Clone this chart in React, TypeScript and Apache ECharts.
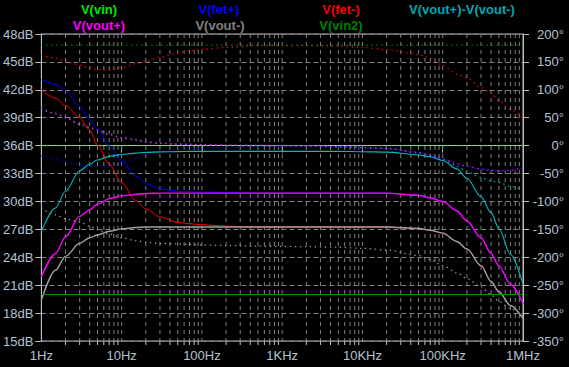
import React, { useEffect, useRef } from "react";
import * as echarts from "echarts";

const freqs = [1, 1.5, 2, 3, 4, 5, 7, 10, 15, 20, 30, 50, 70, 100, 200, 500, 1e3, 2e3, 5e3, 1e4, 2e4, 5e4, 7e4, 1e5, 1.5e5, 2e5, 3e5, 4e5, 5e5, 7e5, 1e6];

// Magnitudes (dB)
const fetPlusMag = [43.1, 42.6, 41.9, 40.2, 38.8, 37.8, 36.0, 34.4, 32.7, 31.9, 31.35, 31.1, 31.05, 31.0, 30.95, 30.9, 30.9, 30.9, 30.9, 30.9, 30.9, 30.65, 30.4, 30.0, 29.0, 27.9, 26.1, 24.4, 23.1, 21.1, 19.0];
const fetMinusMag = [42.0, 41.1, 40.3, 39.0, 37.7, 36.1, 34.0, 32.0, 30.1, 29.2, 28.35, 27.75, 27.6, 27.5, 27.35, 27.25, 27.25, 27.25, 27.25, 27.25, 27.25, 27.1, 26.9, 26.6, 25.7, 24.9, 23.1, 21.4, 20.3, 18.8, 17.4];
const diffMag = [26.8, 29.3, 31.1, 33.3, 34.0, 34.45, 34.85, 35.05, 35.2, 35.28, 35.33, 35.36, 35.38, 35.38, 35.38, 35.38, 35.38, 35.38, 35.38, 35.35, 35.3, 35.0, 34.8, 34.4, 33.5, 32.5, 30.5, 28.8, 27.1, 24.3, 21.1];
const voutPlusMag = [21.9, 24.4, 26.2, 28.4, 29.1, 29.7, 30.3, 30.6, 30.75, 30.85, 30.9, 30.9, 30.9, 30.9, 30.9, 30.9, 30.9, 30.9, 30.9, 30.9, 30.9, 30.65, 30.4, 30.0, 29.0, 27.9, 26.1, 24.4, 23.1, 21.1, 19.0];
const voutMinusMag = [19.4, 22.6, 24.1, 25.5, 26.1, 26.4, 26.8, 27.05, 27.2, 27.25, 27.25, 27.25, 27.25, 27.25, 27.25, 27.25, 27.25, 27.25, 27.25, 27.25, 27.25, 27.1, 26.9, 26.6, 25.7, 24.9, 23.1, 21.4, 20.3, 18.8, 17.4];

// Phases (degrees)
const fetPlusPhase = [-18, -23, -28, -34, -36, -37, -36, -31, -23, -16, -11, -7.5, -6, -4.5, -3, -2, -1, -0.5, -2, -3.5, -5, -12, -17, -24, -32, -37, -42, -44, -45, -44, -39];
const fetMinusPhase = [162, 157, 152, 144, 139, 136, 135.5, 140, 147, 151, 158.5, 165.5, 170, 172.6, 176, 179, 179, 179, 178, 176, 172, 163, 156, 144, 128, 121, 104, 95, 80, 65, 49];
const diffPhase = [66, 57, 50, 38, 32, 27, 20, 14, 10, 6.5, 4, 2.5, 2, 1.5, 0.8, 0.3, 0, -0.5, -2, -3.5, -5, -13, -18, -25, -36, -47, -57, -63, -66, -73, -79];
const voutPlusPhase = [68, 58, 51, 39, 33, 28, 21, 14.5, 11, 7, 4.5, 3, 2.5, 2, 1, 0.5, 0, -0.5, -2, -3.5, -5, -12, -17, -24, -32, -37, -42, -44, -45, -44, -39];
const voutMinusPhase = [-112, -124, -131, -137, -144, -151, -158, -165, -170, -173, -175, -176, -177, -178, -179, -180, -180.5, -181, -182, -184, -187, -197, -204, -215, -228, -238, -253, -267, -279, -292, -305];

// Flat traces
const flatFreqs = [1, 1e6];
const vinPhase = [0, 0];
const vin2Mag = [20, 20];
const vin2Phase = [180, 180];

const xTickLabels = ["1Hz", "10Hz", "100Hz", "1KHz", "10KHz", "100KHz", "1MHz"];
const decades = [1, 10, 100, 1e3, 1e4, 1e5];
const multipliers = [1, 2, 3, 4, 5, 6, 7, 8, 9];

const legendRow1 = [
  { text: "V(vin)", color: "#00e600" },
  { text: "V(fet+)", color: "#0000ff" },
  { text: "V(fet-)", color: "#ff0000" },
  { text: "V(vout+)-V(vout-)", color: "#00a8b4" },
];
const legendRow2 = [
  { text: "V(vout+)", color: "#ff00ff" },
  { text: "V(vout-)", color: "#808080" },
  { text: "V(vin2)", color: "#008000" },
];

const FONT = '"Liberation Sans", Arial, sans-serif';
const LABEL_COLOR = "#b4c3d2";

export default function App() {
  const ref = useRef<HTMLDivElement>(null);
  useEffect(() => {
    if (!ref.current) return;
    const chart = echarts.init(ref.current, undefined, { renderer: "svg" });

    const gridFreqs = decades
      .flatMap((d) => multipliers.map((m) => m * d))
      .filter((f) => f > 1 && f < 1e6);

    const pairs = (xs: number[], ys: number[]) => xs.map((f, i) => [f, ys[i]]);

    const mag = (name: string, color: string, ys: number[], xs = freqs, width = 1.1) => ({
      name,
      type: "line",
      xAxisIndex: 0,
      yAxisIndex: 0,
      data: pairs(xs, ys),
      showSymbol: false,
      symbol: "none",
      smooth: 0.3,
      smoothMonotone: "x",
      lineStyle: { color, width },
      silent: true,
    });
    const phase = (name: string, color: string, ys: number[], xs = freqs) => ({
      name: name + " phase",
      type: "line",
      xAxisIndex: 0,
      yAxisIndex: 1,
      data: pairs(xs, ys),
      showSymbol: false,
      symbol: "none",
      smooth: 0.3,
      smoothMonotone: "x",
      lineStyle: { color, width: 1.3, type: [1.3, 3.7] },
      silent: true,
    });

    const graphics: any[] = [];
    const row1X = [99, 219, 341, 462];
    const row2X = [99, 220, 341];
    const addText = (text: string, color: string, x: number, y: number) =>
      graphics.push({
        type: "text",
        x,
        y,
        style: {
          text,
          fill: color,
          font: `bold 13px ${FONT}`,
          textAlign: "center",
          textVerticalAlign: "middle",
          align: "center",
          verticalAlign: "middle",
        },
      });
    legendRow1.forEach((l, i) => addText(l.text, l.color, row1X[i], 9));
    legendRow2.forEach((l, i) => addText(l.text, l.color, row2X[i], 25));

    chart.setOption({
      animation: false,
      backgroundColor: "#000000",
      grid: {
        left: 40,
        right: 46,
        top: 34,
        bottom: 26,
        show: true,
        borderColor: "#c0c0c0",
        borderWidth: 1,
        containLabel: false,
      },
      graphic: graphics,
      xAxis: [
        {
          type: "log",
          logBase: 10,
          min: 1,
          max: 1e6,
          splitNumber: 6,
          axisLine: { show: true, lineStyle: { color: "#c0c0c0" } },
          axisTick: { show: true, length: 7, lineStyle: { color: "#c0c0c0" } },
          splitLine: { show: false },
          axisLabel: {
            color: LABEL_COLOR,
            fontFamily: FONT,
            fontSize: 13,
            margin: 8,
            showMinLabel: true,
            showMaxLabel: true,
            formatter: (v: number) => xTickLabels[Math.round(Math.log10(v))] ?? "",
          },
        },
      ],
      yAxis: [
        {
          type: "value",
          position: "left",
          min: 15,
          max: 48,
          interval: 3,
          axisLine: { show: true, lineStyle: { color: "#c0c0c0" } },
          axisTick: { show: true, length: 6, lineStyle: { color: "#c0c0c0" } },
          splitLine: { show: true, lineStyle: { color: "#808080", type: [5, 3], width: 1 } },
          axisLabel: { color: LABEL_COLOR, fontFamily: FONT, fontSize: 13, margin: 8, formatter: "{value}dB" },
        },
        {
          type: "value",
          position: "right",
          min: -350,
          max: 200,
          interval: 50,
          axisLine: { show: true, lineStyle: { color: "#c0c0c0" } },
          axisTick: { show: true, length: 6, lineStyle: { color: "#c0c0c0" } },
          splitLine: { show: false },
          axisLabel: {
            color: LABEL_COLOR,
            fontFamily: FONT,
            fontSize: 13,
            margin: 41,
            align: "right",
            formatter: "{value}°",
          },
        },
      ],
      series: [
        {
          type: "custom",
          xAxisIndex: 0,
          yAxisIndex: 0,
          silent: true,
          data: gridFreqs.map((f) => [f]),
          encode: { x: 0 },
          renderItem: (params: any, api: any) => {
            const f = api.value(0);
            const top = api.coord([f, 48]);
            const bot = api.coord([f, 15]);
            const isDecade = Math.abs(Math.log10(f) - Math.round(Math.log10(f))) < 1e-9;
            const children: any[] = [
              {
                type: "line",
                shape: { x1: top[0], y1: top[1], x2: bot[0], y2: bot[1] },
                style: { stroke: "#808080", lineWidth: 1, lineDash: [4, 4] },
              },
            ];
            if (!isDecade) {
              children.push({
                type: "line",
                shape: { x1: bot[0], y1: bot[1], x2: bot[0], y2: bot[1] + 4 },
                style: { stroke: "#c0c0c0", lineWidth: 1 },
              });
            }
            return { type: "group", children };
          },
          z: 1,
        },
        phase("V(vin)", "#00e600", vinPhase, flatFreqs),
        mag("V(fet+)", "#0000ff", fetPlusMag, freqs, 1.0),
        phase("V(fet+)", "#0000ff", fetPlusPhase),
        mag("V(fet-)", "#ff0000", fetMinusMag, freqs, 1.0),
        phase("V(fet-)", "#ff0000", fetMinusPhase),
        mag("V(vout+)-V(vout-)", "#00b8c0", diffMag),
        phase("V(vout+)-V(vout-)", "#00b8c0", diffPhase),
        mag("V(vout+)", "#ff00ff", voutPlusMag, freqs, 1.4),
        phase("V(vout+)", "#ff00ff", voutPlusPhase),
        mag("V(vout-)", "#a0a0a0", voutMinusMag, freqs, 1.4),
        phase("V(vout-)", "#a0a0a0", voutMinusPhase),
        mag("V(vin2)", "#009000", vin2Mag, flatFreqs),
        phase("V(vin2)", "#009000", vin2Phase, flatFreqs),
      ],
    });
    return () => chart.dispose();
  }, []);

  return (
    <div
      ref={ref}
      style={{ position: "absolute", left: 0, top: 0, width: 569, height: 367, background: "#000" }}
    />
  );
}
